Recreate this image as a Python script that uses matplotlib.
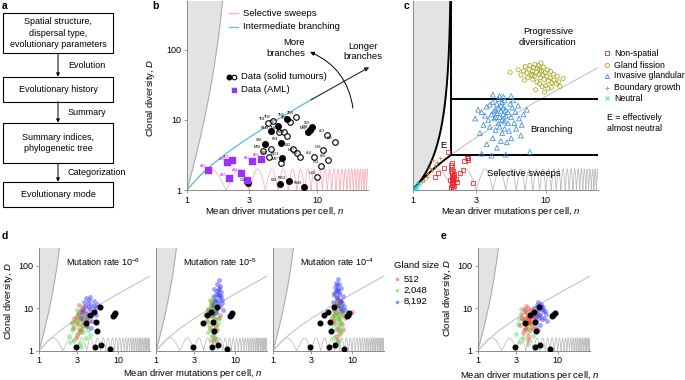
import matplotlib
matplotlib.use('Agg')
import matplotlib.pyplot as plt
import numpy as np
from matplotlib.patches import Rectangle
from matplotlib.ticker import NullLocator

plt.rcParams['font.family'] = ['Liberation Sans', 'DejaVu Sans']
plt.rcParams['mathtext.fontset'] = 'custom'
plt.rcParams['mathtext.rm'] = 'Liberation Sans'
plt.rcParams['mathtext.it'] = 'Liberation Sans:italic'
plt.rcParams['font.size'] = 6.5

# ---------------- data ----------------
# panel a
flow_boxes = ['Spatial structure,\ndispersal type,\nevolutionary parameters',
              'Evolutionary history',
              'Summary indices,\nphylogenetic tree',
              'Evolutionary mode']
flow_steps = ['Evolution', 'Summary', 'Categorization']

# panel b: solid tumours (filled / open) and AML
filled_names = ['K448', 'TN3', 'C86', 'TN7', 'P84', 'K153', 'C65', 'M12', 'C28',
                'U56', 'K18', 'P852', 'P849']
filled_n = [4.45, 5.9, 3.95, 5.0, 5.25, 5.35, 9.15, 8.6, 8.85, 2.95, 5.15, 6.05, 7.95]
filled_D = [6.9, 10.4, 4.6, 8.3, 4.7, 2.85, 7.9, 6.7, 7.1, 1.25, 1.22, 1.33, 1.1]

open_names = ['TN1', 'TN2', 'TN5', 'TN4', 'TN8', 'T76', 'M54', 'T50', 'T80', 'M07',
              'L82', 'M37', 'U55', 'L64', 'U66', 'L63', 'L65', 'L60', 'U61', 'U84', 'M20']
open_n = [4.2, 4.55, 6.15, 6.9, 5.1, 5.55, 5.9, 4.45, 4.25, 5.3,
          6.55, 7.0, 7.4, 9.4, 11.2, 11.9, 13.8, 12.2, 10.8, 10.0, 3.85]
open_D = [9.1, 9.8, 9.5, 11.1, 6.8, 6.7, 6.0, 3.9, 2.95, 2.45,
          3.9, 3.35, 3.0, 2.95, 3.7, 6.1, 4.9, 2.7, 2.2, 1.55, 3.6]

aml_names = ['A13', 'A35', 'A03', 'A26', 'A16', 'A27', 'A05', 'A08']
aml_n = [1.46, 2.03, 2.21, 2.09, 2.59, 2.88, 3.18, 3.71]
aml_D = [1.93, 2.49, 2.65, 1.47, 1.73, 1.39, 2.57, 2.8]

# panel c: simulated models
nonspatial_n = [1.85, 1.96, 1.97, 1.95, 1.98, 2.0, 1.96, 1.99, 2.01, 1.97, 1.95, 2.02, 1.98,
                2.0, 1.96, 2.03, 2.27, 2.39, 2.55, 2.6, 2.85, 1.47, 1.56, 1.72, 1.9, 2.05,
                2.1, 2.0, 1.93, 2.15, 2.45, 2.62, 1.99, 2.04, 1.94]
nonspatial_D = [3.5, 2.4, 2.1, 1.9, 1.75, 1.6, 1.5, 1.4, 1.3, 1.2, 1.1, 1.25, 1.35,
                1.45, 1.65, 1.55, 1.75, 1.93, 2.86, 2.7, 1.26, 1.55, 1.73, 2.06, 1.39, 1.15,
                1.45, 1.05, 2.25, 1.3, 2.6, 2.85, 1.85, 1.7, 1.02]
fission_n = [5.4, 6.5, 6.8, 7.2, 7.5, 7.8, 8.0, 8.2, 8.5, 8.7, 8.9, 9.1, 9.3, 9.5, 9.7,
             9.9, 10.2, 10.5, 10.8, 11.1, 11.5, 12.0, 12.5, 13.5, 7.0, 7.6, 8.3, 8.8, 9.2,
             8.0, 8.6, 9.0, 9.4, 10.0, 10.4, 11.0, 7.3, 6.9, 9.6, 10.3, 10.9, 11.4, 12.2,
             8.4, 9.8, 12.8, 6.2, 7.9, 8.1, 9.0]
fission_D = [48, 44, 50, 47, 53, 45, 50, 42, 48, 55, 45, 40, 50, 44, 38,
             47, 42, 36, 40, 34, 37, 33, 35, 39, 58, 60, 62, 60, 65,
             38, 35, 33, 30, 31, 28, 29, 40, 37, 57, 52, 49, 45, 42,
             27, 25, 30, 52, 43, 56, 52]
invasive_n = [4.5, 4.3, 4.7, 4.6, 4.4, 4.8, 4.2, 5.0, 4.5, 4.9, 4.1, 4.6, 4.3, 4.8, 5.2,
              3.9, 3.7, 3.5, 3.3, 2.95, 3.1, 3.6, 4.0, 4.4, 4.9, 5.4, 5.6, 5.9, 6.2, 5.5,
              5.8, 6.3, 6.8, 7.2, 6.0, 5.3, 4.7, 4.2, 3.8, 4.0, 4.6, 5.1, 3.6, 4.3, 5.5,
              6.5, 7.6, 3.3, 3.9, 5.0, 4.5, 5.5, 4.0, 4.8, 5.2, 3.4, 4.1, 5.7, 3.2, 6.6,
              4.4, 4.7, 3.8, 5.0, 4.2, 4.9]
invasive_D = [11, 12.5, 10, 13.5, 9, 12, 14, 11.5, 8, 9.5, 10.5, 16, 17, 15, 13,
              12, 10, 11.5, 13, 10.5, 14, 15.5, 18, 20, 19, 17, 15, 13, 16, 11,
              9, 10.5, 12, 14, 7.5, 7, 6.5, 7.2, 8, 5.5, 5, 4.8, 4.5, 4, 5.5,
              6, 3.5, 3.3, 3.1, 3.2, 22, 22, 23, 21.5, 9, 8.5, 13.5, 19, 6.5, 8.5,
              15, 18, 16.5, 14, 11, 7.5]
boundary_n = [1.43, 1.47, 1.27, 1.22, 1.35, 1.52, 1.18, 1.3, 1.6, 1.4]
boundary_D = [2.68, 2.28, 1.55, 1.39, 2.06, 2.5, 1.3, 1.7, 2.9, 1.9]
neutral_n = [1.0, 1.02, 1.04, 1.06, 1.08, 1.1, 1.03, 1.12]
neutral_D = [1.0, 1.04, 1.08, 1.1, 1.15, 1.2, 1.02, 1.25]

# panel d: gland sizes 512 / 2,048 / 8,192 at three mutation rates
rates = ['10$^{-6}$', '10$^{-5}$', '10$^{-4}$']
d_red_n = [
    [2.7, 2.9, 3.0, 3.1, 3.2, 3.3, 3.4, 3.5, 3.6, 3.0, 2.8, 3.2, 3.4, 3.7, 3.9, 4.1, 2.6, 3.1, 3.3, 3.5, 3.8, 2.9, 3.6, 4.3, 3.2],
    [4.4, 4.6, 4.8, 5.0, 5.1, 5.2, 5.3, 5.4, 5.5, 5.6, 5.8, 6.0, 6.2, 4.9, 5.1, 5.7, 5.3, 4.7, 5.9, 6.4, 5.0, 5.5, 5.2, 4.5, 5.8],
    [5.6, 5.9, 6.1, 6.3, 6.5, 6.6, 6.8, 7.0, 7.2, 7.5, 7.8, 6.2, 6.4, 6.9, 7.3, 5.8, 6.7, 7.1, 6.0, 8.2, 10.0, 6.5, 7.6, 6.3, 6.9]]
d_red_D = [
    [3.5, 5.0, 6.5, 4.2, 8.0, 5.5, 3.0, 7.0, 4.8, 2.4, 6.0, 3.3, 9.0, 5.8, 3.8, 6.5, 4.4, 7.5, 2.7, 4.0, 8.5, 2.0, 10.5, 5.0, 12.0],
    [5.0, 8.0, 3.5, 6.5, 10.0, 4.2, 13.0, 2.8, 7.5, 5.5, 9.0, 3.0, 6.0, 12.0, 2.2, 4.0, 1.7, 6.8, 11.0, 7.0, 15.0, 3.3, 8.5, 9.5, 1.9],
    [6.0, 9.0, 4.5, 11.0, 3.5, 7.5, 5.5, 2.6, 8.5, 4.2, 6.8, 2.2, 13.0, 3.0, 10.0, 5.0, 1.8, 14.0, 7.2, 5.8, 8.3, 16.0, 3.3, 8.0, 12.0]]
d_green_n = [
    [2.4, 2.6, 2.8, 3.0, 3.1, 3.3, 3.5, 3.7, 3.9, 2.9, 3.2, 3.4, 3.6, 4.2, 2.7, 3.0, 3.8, 4.4, 2.5, 3.3, 3.1, 3.6, 4.0, 2.8, 3.5],
    [4.2, 4.5, 4.7, 4.9, 5.0, 5.1, 5.2, 5.3, 5.4, 5.6, 5.8, 6.1, 4.8, 5.0, 5.5, 4.6, 5.7, 6.3, 5.1, 4.4, 5.9, 5.3, 4.9, 5.6, 5.2],
    [5.7, 5.9, 6.1, 6.3, 6.5, 6.7, 6.9, 7.1, 7.3, 7.6, 6.0, 6.4, 6.8, 7.2, 5.8, 6.6, 7.0, 6.2, 7.8, 6.4, 5.9, 6.8, 7.4, 6.1, 6.6]]
d_green_D = [
    [2.2, 3.0, 1.8, 4.5, 2.6, 1.5, 3.4, 5.5, 2.0, 6.0, 7.5, 1.2, 4.0, 3.0, 4.8, 9.0, 7.0, 2.4, 1.6, 5.2, 1.3, 2.8, 4.2, 3.6, 10.0],
    [7.0, 9.5, 4.0, 12.0, 3.0, 6.5, 14.5, 2.4, 8.5, 5.5, 3.6, 4.5, 16.0, 1.8, 11.0, 2.8, 7.8, 6.0, 10.0, 5.2, 1.5, 19.0, 8.8, 2.1, 4.8],
    [4.0, 7.0, 10.0, 3.0, 5.5, 8.5, 2.4, 6.2, 4.6, 9.5, 2.0, 12.0, 3.6, 11.0, 6.5, 1.6, 5.0, 14.0, 7.5, 1.4, 9.0, 4.2, 2.9, 5.8, 6.8]]
d_blue_n = [
    [3.4, 3.6, 3.8, 4.0, 4.2, 4.4, 4.6, 4.8, 5.0, 5.3, 3.9, 4.1, 4.3, 4.5, 4.7, 3.7, 4.9, 5.5, 4.0, 4.4, 3.5, 5.2, 4.6, 4.2, 3.9],
    [5.2, 5.4, 5.6, 5.8, 6.0, 6.1, 6.2, 6.3, 6.4, 6.5, 6.6, 6.8, 7.0, 5.5, 5.9, 6.2, 6.0, 5.7, 6.4, 6.7, 5.3, 6.1, 5.8, 6.3, 6.9],
    [5.8, 6.0, 6.2, 6.4, 6.5, 6.6, 6.7, 6.8, 7.0, 7.2, 7.4, 7.6, 7.9, 8.2, 6.3, 6.6, 6.9, 7.1, 6.1, 7.3, 6.5, 6.8, 7.5, 5.9, 6.4]]
d_blue_D = [
    [6.0, 9.0, 11.0, 7.5, 13.0, 9.5, 12.0, 8.0, 15.0, 10.0, 4.5, 5.5, 16.0, 6.5, 5.0, 14.0, 11.5, 12.5, 3.8, 18.0, 8.0, 7.0, 3.5, 10.5, 17.0],
    [12.0, 18.0, 15.0, 22.0, 25.0, 14.0, 30.0, 20.0, 11.0, 17.0, 24.0, 13.0, 9.0, 28.0, 38.0, 45.0, 10.0, 8.0, 33.0, 19.0, 7.5, 21.0, 16.0, 27.0, 15.5],
    [14.0, 20.0, 26.0, 18.0, 35.0, 12.0, 28.0, 22.0, 16.0, 30.0, 13.0, 19.0, 11.0, 9.0, 40.0, 48.0, 24.0, 10.0, 32.0, 15.0, 17.0, 38.0, 8.5, 23.0, 27.0]]

# panel e
e_red_n = [3.4, 3.6, 3.8, 3.9, 4.0, 4.1, 4.2, 4.3, 4.4, 4.5, 4.6, 4.8, 5.0, 5.3, 3.7,
           4.0, 4.3, 4.6, 3.5, 4.9, 4.2, 4.4, 3.9, 4.7, 5.2, 4.1, 3.8, 4.5, 4.0, 4.3]
e_red_D = [4.0, 6.0, 5.0, 8.5, 3.5, 7.0, 4.6, 10.0, 5.5, 3.0, 6.5, 4.2, 8.0, 5.0, 2.6,
           11.0, 2.2, 9.0, 7.5, 3.4, 5.8, 4.8, 3.2, 5.3, 6.2, 4.4, 9.5, 7.8, 6.0, 1.8]
e_green_n = [3.0, 3.2, 3.4, 3.6, 3.8, 4.0, 4.2, 4.4, 4.6, 4.9, 5.2, 3.5, 3.9, 4.3, 4.7,
             3.3, 4.1, 5.5, 3.7, 4.5]
e_green_D = [2.5, 4.2, 1.6, 6.0, 3.0, 8.0, 1.4, 4.8, 3.6, 2.2, 6.5, 9.5, 5.2, 2.8, 7.2,
             5.5, 3.8, 1.3, 2.0, 4.5]
e_blue_n = [4.9, 5.1, 5.3, 5.5, 5.7, 5.9, 6.1, 6.3, 6.5, 6.8, 7.1, 7.4, 5.2, 5.6, 6.0,
            6.4, 5.4, 5.8, 6.2, 6.6, 5.0, 5.5, 6.0, 6.9, 5.7]
e_blue_D = [8.0, 10.0, 6.5, 12.0, 9.0, 7.0, 11.0, 5.5, 8.5, 6.0, 7.5, 5.0, 4.5, 14.0, 4.0,
            9.5, 3.4, 5.8, 12.5, 10.5, 6.0, 7.8, 6.8, 8.8, 3.0]

gland_sizes = ['512', '2,048', '8,192']

# ---------------- styles ----------------
W, H = 685, 380
GRAY_FILL = '#e3e3e3'
GRAY_EDGE = '#a8a8a8'
GRAY_LINE = '#c4c4c4'
PINK = '#ffb0bf'
SKY = '#68bfe6'
PURPLE = '#9b30ff'
GLAND_COLORS = ['#ff3030', '#30dd30', '#2828ff']

fig = plt.figure(figsize=(W / 100, H / 100), dpi=100)


def add_ax(left, top, right, bottom):
    return fig.add_axes([left / W, 1 - bottom / H, (right - left) / W, (bottom - top) / H])


def branch_line(n):
    # intermediate-branching reference line
    return 2.3 * np.asarray(n) - 1.3


def gray_edge(D):
    L = np.log10(D)
    return 10 ** (0.15 * L - 0.018 * L ** 2)


def style_axes(ax, xmax, ymax, yticks=True):
    ax.set_xscale('log')
    ax.set_yscale('log')
    ax.set_xlim(1, xmax)
    ax.set_ylim(1, ymax)
    ax.set_xticks([1, 3, 10])
    ax.set_xticklabels(['1', '3', '10'])
    if yticks:
        ax.set_yticks([1, 10, 100])
        ax.set_yticklabels(['1', '10', '100'])
    else:
        ax.set_yticks([])
    ax.xaxis.set_minor_locator(NullLocator())
    ax.yaxis.set_minor_locator(NullLocator())
    for s in ['top', 'right']:
        ax.spines[s].set_visible(False)
    for s in ['left', 'bottom']:
        ax.spines[s].set_color('#8a8a8a')
        ax.spines[s].set_linewidth(0.7)
    ax.tick_params(length=2.5, width=0.6, pad=1.5, color='#8a8a8a', labelsize=6.5)
    ax.patch.set_alpha(0)


def draw_background(ax, ymax, sweep_color, edge_func=gray_edge, edge_color=GRAY_EDGE, edge_lw=0.7):
    Dg = np.logspace(0, np.log10(ymax) + 0.01, 400)
    ax.fill_betweenx(Dg, 1, edge_func(Dg), color=GRAY_FILL, lw=0, zorder=0)
    ax.plot(edge_func(Dg), Dg, color=edge_color, lw=edge_lw, zorder=1)
    ns = np.linspace(1, 26, 40000)
    f = ns - np.floor(ns)
    ax.plot(ns, 1 / (f ** 2 + (1 - f) ** 2), color=sweep_color, lw=0.6, zorder=1)


# ---------------- panel b ----------------
ax_b = add_ax(187, 1, 367.6, 190)
style_axes(ax_b, 24.5, 500)
draw_background(ax_b, 500, PINK)
nb = np.linspace(1, 9.3, 100)
ax_b.plot(nb, branch_line(nb), color=SKY, lw=1.0, zorder=2)
ax_b.annotate('', xy=(25.2, branch_line(25.2)), xytext=(9.0, branch_line(9.0)),
              arrowprops=dict(arrowstyle='-|>', color='#1a2a3a', lw=0.8, mutation_scale=6,
                              shrinkA=0, shrinkB=0), annotation_clip=False)
ax_b.annotate('', xy=(8.84, 93.6), xytext=(18.9, 14.8),
              arrowprops=dict(arrowstyle='-|>', color='black', lw=0.7, mutation_scale=6,
                              connectionstyle='arc3,rad=0.28', shrinkA=0, shrinkB=0),
              annotation_clip=False)
ax_b.scatter(open_n, open_D, s=16, facecolors='white', edgecolors='black', linewidths=0.8, zorder=4)
ax_b.scatter(filled_n, filled_D, s=16, color='black', zorder=5)
ax_b.scatter(aml_n, aml_D, s=13, marker='s', color=PURPLE, zorder=5)
for name, x, y in zip(open_names + filled_names, open_n + filled_n, open_D + filled_D):
    ax_b.annotate(name, (x, y), xytext=(-1.5, 1.2), textcoords='offset points',
                  fontsize=2.6, ha='right', va='bottom', zorder=6)
for name, x, y in zip(aml_names, aml_n, aml_D):
    ax_b.annotate(name, (x, y), xytext=(-1.5, 1.2), textcoords='offset points',
                  fontsize=2.6, ha='right', va='bottom', color=PURPLE, zorder=6)

# ---------------- panel c ----------------
def c_edge(D):
    return 1.95 - 0.95 * np.exp(-1.25 * np.log10(D))


D_LOW, D_HIGH = 3.2, 20
n_c = (D_LOW + 1.3) / 2.3
ax_c = add_ax(412.7, 1, 598, 190)
style_axes(ax_c, 24.7, 500, yticks=False)
draw_background(ax_c, 500, '#bdbdbd', edge_func=c_edge, edge_color='black', edge_lw=1.4)
nl = np.linspace(1, n_c, 60)
ax_c.plot(nl, branch_line(nl), color='black', lw=1.4, zorder=3)
nr = np.linspace(n_c, 24.7, 60)
ax_c.plot(nr, branch_line(nr), color=GRAY_LINE, lw=0.8, zorder=1)
ax_c.plot([n_c, n_c], [D_LOW, 500], color='black', lw=1.4, zorder=3)
ax_c.plot([n_c, 24.7], [D_LOW, D_LOW], color='black', lw=1.4, zorder=3)
ax_c.plot([n_c, 24.7], [D_HIGH, D_HIGH], color='black', lw=1.4, zorder=3)
ax_c.scatter(fission_n, fission_D, s=9, marker='o', facecolors='none', edgecolors='#a9a81e', linewidths=0.55, zorder=4)
ax_c.scatter(invasive_n, invasive_D, s=12, marker='^', facecolors='none', edgecolors='#3a8de0', linewidths=0.55, zorder=4)
ax_c.scatter(nonspatial_n, nonspatial_D, s=9, marker='s', facecolors='none', edgecolors='#e8242c', linewidths=0.55, zorder=4)
ax_c.scatter(boundary_n, boundary_D, s=12, marker='+', color='#e0873a', linewidths=0.6, zorder=4)
ax_c.scatter(neutral_n, neutral_D, s=9, marker='x', color='#22d0d8', linewidths=0.6, zorder=4)

# ---------------- panel d ----------------
d_lefts = [39, 156, 273]
for i, left in enumerate(d_lefts):
    ax = add_ax(left, 248, left + 111, 350.7)
    style_axes(ax, 25.4, 261, yticks=(i == 0))
    draw_background(ax, 261, '#c0c0c0')
    nn = np.linspace(1, 25.4, 60)
    ax.plot(nn, branch_line(nn), color=GRAY_LINE, lw=0.8, zorder=1)
    for xs, ys, col in zip([d_red_n[i], d_green_n[i], d_blue_n[i]],
                           [d_red_D[i], d_green_D[i], d_blue_D[i]], GLAND_COLORS):
        ax.scatter(xs, ys, s=12, color=col, alpha=0.42, lw=0, zorder=3)
    ax.scatter(filled_n, filled_D, s=11, color='black', zorder=5)
    ax.text(0.58, 0.865, 'Mutation rate ' + rates[i], transform=ax.transAxes,
            ha='center', va='center', fontsize=6.5)

# ---------------- panel e ----------------
ax_e = add_ax(477.7, 248, 590, 350.7)
style_axes(ax_e, 25.3, 261)
draw_background(ax_e, 261, '#c0c0c0')
ne = np.linspace(1, 25.3, 60)
ax_e.plot(ne, branch_line(ne), color=GRAY_LINE, lw=0.8, zorder=1)
for xs, ys, col in zip([e_green_n, e_blue_n, e_red_n], [e_green_D, e_blue_D, e_red_D],
                       [GLAND_COLORS[1], GLAND_COLORS[2], GLAND_COLORS[0]]):
    ax_e.scatter(xs, ys, s=12, color=col, alpha=0.42, lw=0, zorder=3)
ax_e.scatter(filled_n, filled_D, s=11, color='black', zorder=5)

# ---------------- overlay: panel a, labels, legends ----------------
ov = fig.add_axes([0, 0, 1, 1], zorder=10)
ov.set_xlim(0, W)
ov.set_ylim(H, 0)
ov.axis('off')
ov.patch.set_alpha(0)

box_tops = [12.7, 76.7, 122.7, 181.7]
box_bottoms = [53.3, 101.7, 163.3, 206.7]
for txt, t, b in zip(flow_boxes, box_tops, box_bottoms):
    ov.add_patch(Rectangle((3.3, t), 109.4, b - t, fill=False, ec='black', lw=0.8))
    ov.text(58, (t + b) / 2, txt, ha='center', va='center', fontsize=6.5, linespacing=1.35)
for i, step in enumerate(flow_steps):
    ov.annotate('', xy=(58, box_tops[i + 1]), xytext=(58, box_bottoms[i]),
                arrowprops=dict(arrowstyle='-|>', color='black', lw=0.7, mutation_scale=5,
                                shrinkA=0, shrinkB=0))
    ov.text(68, (box_bottoms[i] + box_tops[i + 1]) / 2, step, ha='left', va='center', fontsize=6.5)

for letter, x, y in [('a', 2, 6), ('b', 152, 6), ('c', 404, 6), ('d', 2, 236), ('e', 441, 236)]:
    ov.text(x, y, letter, fontsize=7.5, fontweight='bold', ha='left', va='center')

# axis labels
ylab = 'Clonal diversity, $D$'
xlab = 'Mean driver mutations per cell, $n$'
ov.text(151, 98, ylab, rotation=90, ha='center', va='center', fontsize=6.8)
ov.text(275, 212, xlab, ha='center', va='center', fontsize=6.8)
ov.text(511, 212, xlab, ha='center', va='center', fontsize=6.8)
ov.text(8.5, 301, ylab, rotation=90, ha='center', va='center', fontsize=6.8)
ov.text(193, 374, xlab, ha='center', va='center', fontsize=6.8)
ov.text(448, 298, ylab, rotation=90, ha='center', va='center', fontsize=6.8)
ov.text(530, 375, xlab, ha='center', va='center', fontsize=6.8)

# panel b legend and annotations
ov.plot([229, 238], [13.3, 13.3], color=PINK, lw=1.0)
ov.text(242.7, 13.3, 'Selective sweeps', ha='left', va='center', fontsize=6.8)
ov.plot([229, 238], [26.7, 26.7], color=SKY, lw=1.0)
ov.text(242.7, 26.7, 'Intermediate branching', ha='left', va='center', fontsize=6.8)
ov.plot([228.7], [76.7], marker='o', ms=3.3, color='black')
ov.plot([234.3], [76.7], marker='o', ms=3.3, mfc='white', mec='black', mew=0.8)
ov.text(241, 76.7, 'Data (solid tumours)', ha='left', va='center', fontsize=6.8)
ov.plot([234.3], [90], marker='s', ms=3, color=PURPLE)
ov.text(241, 90, 'Data (AML)', ha='left', va='center', fontsize=6.8)
ov.text(305, 48, 'More\nbranches', ha='right', va='center', fontsize=6.8, multialignment='right', linespacing=1.2)
ov.text(363, 51.5, 'Longer\nbranches', ha='center', va='center', fontsize=6.8, linespacing=1.2)

# panel c texts and legend
ov.text(548, 37, 'Progressive\ndiversification', ha='center', va='center', fontsize=6.8, linespacing=1.25)
ov.text(552, 130, 'Branching', ha='center', va='center', fontsize=6.8)
ov.text(524, 174, 'Selective sweeps', ha='center', va='center', fontsize=6.8)
ov.text(443.3, 145, 'E', ha='center', va='center', fontsize=6.8)
c_items = [('s', '#e8242c', 'Non-spatial'), ('o', '#a9a81e', 'Gland fission'),
           ('^', '#3a8de0', 'Invasive glandular'), ('+', '#e0873a', 'Boundary growth'),
           ('x', '#22d0d8', 'Neutral')]
for (mk, col, lab), y in zip(c_items, [53.3, 65, 76, 87.7, 98.3]):
    if mk in '+x':
        ov.plot([607.3], [y], marker=mk, ms=3.2, color=col, mew=0.6)
    else:
        ov.plot([607.3], [y], marker=mk, ms=3, mfc='none', mec=col, mew=0.6)
    ov.text(614.5, y, lab, ha='left', va='center', fontsize=6.3)
ov.text(606.7, 123.3, 'E = effectively\nalmost neutral', ha='left', va='center', fontsize=6.3, linespacing=1.3)

# panel d legend
ov.text(394, 265, 'Gland size', ha='left', va='center', fontsize=6.8)
for lab, col, y in zip(gland_sizes, GLAND_COLORS, [279.3, 290.3, 301.7]):
    ov.plot([396.7], [y], marker='o', ms=2.6, color=col, alpha=0.5, mew=0)
    ov.text(403.3, y, lab, ha='left', va='center', fontsize=6.8)

fig.savefig('out.png', dpi=100)
